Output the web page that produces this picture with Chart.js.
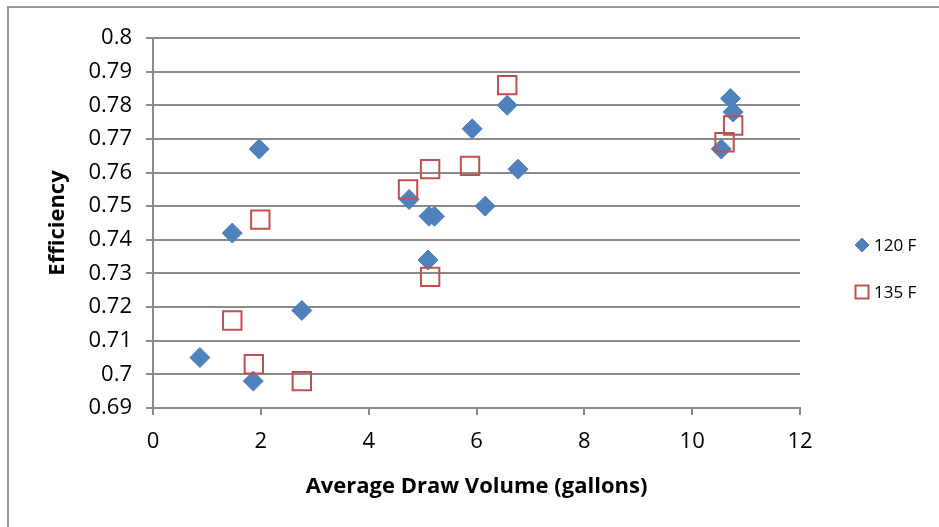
<!DOCTYPE html>
<html>
<head>
<meta charset="utf-8">
<script src="https://cdn.jsdelivr.net/npm/chart.js@4.4.1/dist/chart.umd.min.js"></script>
<style>
  body { margin: 0; background: #fff; }
  #wrap { position: relative; width: 939px; height: 527px; overflow: hidden; }
  #frame {
    position: absolute; left: 7px; top: 6px; width: 1000px; height: 1000px;
    border-left: 2px solid #9a9a9a; border-top: 2px solid #9a9a9a;
    pointer-events: none;
  }
</style>
</head>
<body>
<div id="wrap">
  <canvas id="chart" width="939" height="527"></canvas>
  <div id="frame"></div>
</div>
<script>
// DATA

const seriesNames = ["120 F", "135 F"];

const vol120 = [0.87, 1.47, 1.86, 1.97, 2.76, 4.75, 5.10, 5.12, 5.22, 5.92, 6.57, 6.16, 6.77, 10.71, 10.76, 10.54];
const eff120 = [0.705, 0.742, 0.698, 0.767, 0.719, 0.752, 0.734, 0.747, 0.747, 0.773, 0.780, 0.750, 0.761, 0.782, 0.778, 0.767];

const vol135 = [1.47, 1.87, 1.99, 2.76, 4.73, 5.14, 5.14, 5.88, 6.57, 10.60, 10.76];
const eff135 = [0.716, 0.703, 0.746, 0.698, 0.755, 0.761, 0.729, 0.762, 0.786, 0.769, 0.774];

const xTicks = [0, 2, 4, 6, 8, 10, 12];
const yMin = 0.69, yMax = 0.8, yStep = 0.01;

const toPoints = (xs, ys) => xs.map((x, i) => ({ x: x, y: ys[i] }));

const font = "'Open Sans', 'Liberation Sans', sans-serif";
const gridColor = "#8a8a8a";

// LEGEND (right side, drawn with the datasets' own point styles)

const legendRows = [245, 292];
const legendRadius = [7, 9.2];

const sideLegend = {
  id: "sideLegend",
  afterDraw(chart) {
    const ctx = chart.ctx;
    chart.data.datasets.forEach((ds, i) => {
      ctx.save();
      ctx.fillStyle = ds.backgroundColor;
      ctx.strokeStyle = ds.borderColor;
      ctx.lineWidth = ds.borderWidth;
      Chart.helpers.drawPoint(ctx, {
        pointStyle: ds.pointStyle,
        radius: legendRadius[i],
        borderWidth: ds.borderWidth,
        rotation: 0
      }, 862, legendRows[i]);
      ctx.fillStyle = "#000";
      ctx.font = "17px " + font;
      ctx.textBaseline = "middle";
      ctx.fillText(ds.label, 874, legendRows[i] + 1);
      ctx.restore();
    });
  }
};

new Chart(document.getElementById("chart"), {
  type: "scatter",
  data: {
    datasets: [
      {
        label: seriesNames[0],
        data: toPoints(vol120, eff120),
        pointStyle: "rectRot",
        pointRadius: 10,
        pointHoverRadius: 10,
        backgroundColor: "#4f81bd",
        borderColor: "#4f81bd",
        borderWidth: 1,
        order: 1
      },
      {
        label: seriesNames[1],
        data: toPoints(vol135, eff135),
        pointStyle: "rect",
        pointRadius: 13,
        pointHoverRadius: 13,
        backgroundColor: "rgba(255,255,255,0)",
        borderColor: "#c0504d",
        borderWidth: 2,
        order: 0
      }
    ]
  },
  plugins: [sideLegend],
  options: {
    responsive: false,
    devicePixelRatio: 1,
    animation: false,
    layout: { padding: { left: 4, top: 38, right: 139, bottom: 0 } },
    plugins: {
      tooltip: { enabled: false },
      legend: { display: false }
    },
    scales: {
      x: {
        type: "linear",
        min: 0,
        max: 12,
        afterBuildTicks: s => { s.ticks = xTicks.map(v => ({ value: v })); },
        afterFit: s => { s.height = 119; },
        grid: { drawOnChartArea: false, drawTicks: true, tickLength: 7, color: gridColor, lineWidth: 2 },
        border: { display: true, color: gridColor, width: 2 },
        ticks: { color: "#000", padding: 14, font: { family: font, size: 22 } },
        title: {
          display: true,
          text: "Average Draw Volume (gallons)",
          color: "#000",
          font: { family: font, size: 22, weight: "bold" },
          padding: { top: 0, bottom: 27 }
        }
      },
      y: {
        type: "linear",
        min: yMin,
        max: yMax,
        ticks: {
          stepSize: yStep,
          color: "#000",
          padding: 14,
          font: { family: font, size: 22 },
          callback: v => String(+v.toFixed(2))
        },
        afterFit: s => { s.width = 149; },
        grid: { color: gridColor, lineWidth: 2, tickLength: 7 },
        border: { display: true, color: gridColor, width: 2 },
        title: {
          display: true,
          text: "Efficiency",
          color: "#000",
          font: { family: font, size: 22, weight: "bold" },
          padding: { top: 41, bottom: 0 }
        }
      }
    }
  }
});
</script>
</body>
</html>
